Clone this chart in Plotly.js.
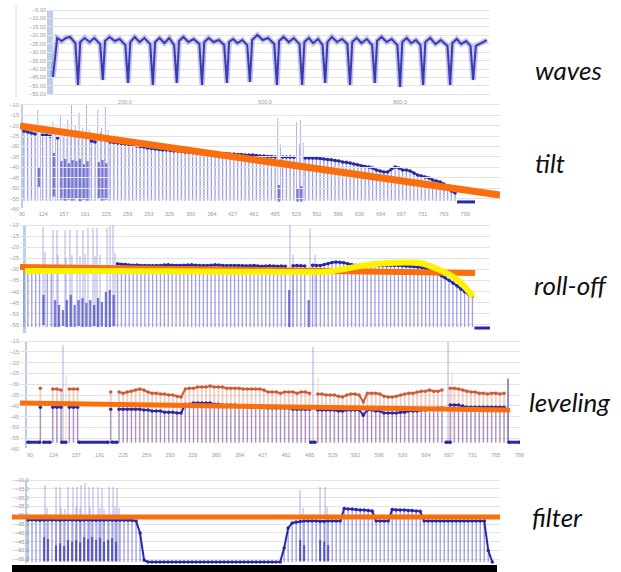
<!DOCTYPE html>
<html><head><meta charset="utf-8">
<script src="https://cdn.plot.ly/plotly-3.0.1.min.js"></script>
<style>html,body{margin:0;padding:0;background:#fff;}#chart{width:621px;height:572px;}</style>
</head><body><div id="chart"></div>
<script>
// ---------------- DATA ----------------
const panelLabels = ['waves', 'tilt', 'roll-off', 'leveling', 'filter'];

// channel plan (MHz, channel centres) shared by the spectrum panels
const channelMHz = [93,99,105,111,117,123,129,135,141,147,153,159,165,171,177,183,189,195,201,207,213,219,225,231,237,243,249,255,261,267,273,279,285,291,297,303,309,315,321,327,333,339,345,351,357,363,369,375,381,387,393,399,405,411,417,423,429,435,441,447,453,459,465,471,477,483,489,495,501,507,513,519,525,531,537,543,549,555,561,567,573,579,585,591,597,603,609,615,621,627,633,639,645,651,657,663,669,675,681,687,693,699,705,711,717,723,729,735,741,747,753,759,765,771,777,783,789];
const freqTickVals = [90,124,157,191,225,259,293,326,360,394,427,461,495,529,562,596,630,664,697,731,765,799];
const freqTickText = ['90','124','157','191','225','259','293','326','360','394','427','461','495','529','562','596','630','664','697','731','765','799'];

// panel 1: waves (time trace)
const wavesTime = [1.35,
 2.3,3.3,4.3,5.2,6.4,7.0,
 7.5,8.5,9.6,10.7,12.0,12.6,
 13.1,14.1,15.3,16.4,17.7,18.3,
 18.8,19.8,20.9,22.0,23.3,23.9,
 24.4,25.4,26.5,27.6,28.7,29.3,
 29.8,30.8,31.9,33.1,34.4,35.0,
 35.5,36.5,37.6,38.8,40.0,40.6,
 41.1,42.0,43.0,44.1,45.2,45.8,
 46.3,47.5,48.7,49.9,51.3,51.9,
 52.4,53.4,54.6,55.7,57.0,57.6,
 58.1,59.1,60.1,61.2,62.2,62.8,
 63.3,64.3,65.5,66.6,67.8,68.4,
 68.9,69.9,71.0,72.2,73.4,74.0,
 74.5,75.5,76.7,77.8,79.1,79.7,
 80.2,81.2,82.2,83.3,84.3,84.9,
 85.4,86.5,87.7,88.9,90.4,91.0,
 91.5,92.5,93.5,94.6,95.6,96.2,
 96.8,98.0,99.3];
const wavesLevel = [-44.7,
 -21.6,-23.4,-21.6,-21.0,-24.6,-49.5,
 -24.0,-21.6,-24.0,-21.6,-25.2,-46.5,
 -23.4,-21.0,-23.4,-22.2,-25.8,-48.3,
 -24.0,-21.0,-24.0,-21.6,-25.2,-49.5,
 -24.0,-21.6,-24.6,-21.6,-25.8,-48.3,
 -23.4,-21.0,-24.0,-22.2,-25.2,-49.5,
 -24.0,-21.6,-24.0,-22.8,-25.8,-48.3,
 -24.0,-22.2,-24.6,-22.8,-25.8,-47.7,
 -22.8,-19.8,-22.8,-21.6,-25.2,-49.5,
 -23.4,-21.0,-24.0,-21.6,-25.2,-49.5,
 -24.0,-21.6,-24.6,-22.2,-25.8,-48.3,
 -24.0,-21.0,-24.0,-22.2,-25.2,-49.5,
 -24.0,-21.6,-24.6,-22.2,-25.8,-48.3,
 -23.4,-21.0,-24.0,-22.2,-25.8,-50.7,
 -24.0,-21.6,-24.6,-22.8,-25.8,-49.5,
 -24.0,-21.6,-25.2,-22.8,-26.3,-49.5,
 -24.6,-22.2,-25.2,-23.4,-26.3,-46.5,
 -26.3,-24.6,-22.8];
const wavesTickVals = [17.6, 49.2, 79.7];
const wavesTickText = ['200.0', '500.0', '800.0'];

// panel 2: tilt
const tiltFloor = -56;
const tiltLevel = [-22.5,-23.0,-23.5,-24.0,null,-24.4,-24.4,-24.9,null,-25.9,
 null,null,null,null,null,null,null,null,-27.3,-27.8,
 null,null,null,-27.8,-28.0,-28.3,-28.5,-28.8,-29.0,-29.2,
 -29.7,-30.0,-30.2,-30.7,-30.9,-31.2,-31.4,-31.6,-31.6,-31.9,
 -32.1,-32.1,-32.4,-32.6,-32.6,-32.6,-32.8,-32.8,-33.1,-33.1,
 -33.1,-33.3,-33.3,-33.6,-33.3,-33.6,-33.6,-33.8,-33.8,-34.0,
 -34.0,-34.0,-34.3,-34.5,-34.5,-34.8,-34.8,-35.0,null,-35.0,
 -35.0,-35.0,-35.2,null,null,-35.5,-35.5,-35.5,-35.5,-35.7,
 -36.0,-36.2,-36.4,-36.7,-36.9,-37.4,-37.6,-37.9,-38.4,-38.8,
 -39.3,-39.6,-39.8,-40.3,-41.3,-41.7,-42.2,-42.2,-40.8,-39.8,
 -40.3,-41.3,-41.3,-41.7,-42.7,-43.7,-44.1,-44.6,-45.1,-46.1,
 -46.5,-47.0,-48.0,-49.9,-51.3,-52.3,null];
const tiltSpikeMHz = [115.3,119.8,139.3,143.8,151.3,155.8,157.3,161.8,163.3,167.8,169.3,173.8,175.3,179.8,181.3,185.8,187.3,191.8,193.3,197.8,211.3,215.8,217.3,221.8,223.3,227.8,499.3,503.8,529.3,533.8,535.3,539.8];
const tiltSpikeLevel = [-12.4,-22.0,-18.2,-23.0,-14.8,-24.0,-21.0,-26.0,-17.0,-25.0,-10.0,-22.0,-20.0,-26.0,-13.8,-23.0,-21.0,-25.0,-10.0,-22.0,-12.4,-23.0,-21.0,-25.0,-11.0,-22.0,-16.3,-29.0,-18.2,-29.0,-17.2,-28.0];
const tiltBodyMHz = [117,141,153,159,165,171,177,183,189,195,213,219,225,501,531,537];
const tiltBodyHigh = [-40.3,-33.0,-37.0,-36.0,-38.0,-36.5,-37.0,-36.0,-38.5,-37.0,-37.5,-36.5,-38.0,-48.5,-50.0,-49.0];
const tiltBodyLow = [-49.4,-54.0,-55.5,-56.0,-55.5,-56.0,-55.0,-56.3,-55.5,-56.0,-55.0,-56.0,-55.5,-56.5,-56.5,-56.5];
const tiltFloorMHz = [786, 815];
const tiltFloorLevel = [-56.6, -56.6];
const tiltGuideMHz = [86.8, 854.8];
const tiltGuideLevel = [-20.1, -53.3];

// panel 3: roll-off
const rolloffFloor = -56;
const rolloffLevel = [-29.0,-29.0,-29.1,-29.0,-29.1,null,-29.2,-29.2,null,null,
 null,null,null,null,null,null,null,null,null,null,
 null,null,null,null,-27.5,-27.7,-27.8,-28.0,-28.1,-28.0,
 -28.2,-28.3,-28.2,-28.4,-28.3,-28.2,-28.0,-27.9,-28.1,-28.2,
 -28.3,-28.1,-28.0,-27.9,-28.1,-28.2,-28.3,-28.2,-28.1,-27.9,
 -28.0,-28.2,-28.4,-28.3,-28.2,-28.3,-28.4,-28.5,-28.4,-28.3,
 -28.5,-28.6,-28.5,-28.4,-28.5,-28.6,-28.5,-28.6,null,-28.4,
 -28.3,-28.4,-28.5,null,-28.1,-28.2,-28.2,-27.8,-27.3,-26.9,
 -26.7,-26.8,-27.0,-27.4,-27.9,-28.1,-28.2,-28.1,-28.2,-28.3,
 -28.1,-28.2,-28.3,-28.2,-28.1,-28.2,-28.3,-28.4,-28.5,-28.6,
 -28.7,-28.9,-29.1,-29.6,-30.2,-31.0,-31.9,-32.8,-33.8,-34.9,
 -36.1,-37.4,-38.8,-40.1,-41.2,-42.0,null];
const rolloffSpikeMHz = [122.3,125.4,137.7,143.8,145.4,156.2,157.7,163.8,166.9,174.6,179.2,183.8,186.9,191.5,199.2,202.3,205.4,210.0,220.8,225.4,230.0,233.1,502.3,506.9,533.1,540.8];
const rolloffSpikeLevel = [-10.9,-22.2,-12.3,-12.3,-23.5,-12.3,-24.9,-12.3,-23.5,-12.3,-24.0,-12.3,-23.1,-11.4,-11.4,-24.0,-11.4,-23.5,-11.4,-10.5,-10.0,-22.6,-10.0,-23.5,-11.4,-23.5];
const rolloffBodyMHz = [123,141,147,153,159,165,171,177,183,189,195,201,207,213,219,225,231,501,531];
const rolloffBodyHigh = [-41.5,-43.8,-46.0,-48.3,-43.8,-41.5,-46.0,-43.8,-42.9,-45.1,-43.8,-46.0,-42.9,-44.7,-40.2,-39.3,-41.5,-39.3,-43.8];
const rolloffBodyLow = [-55.0,-56.0,-56.0,-55.5,-56.0,-55.8,-56.0,-55.5,-56.0,-55.8,-56.0,-55.5,-56.0,-55.8,-56.0,-56.0,-55.5,-56.0,-56.0];
const rolloffFloorMHz = [786, 810];
const rolloffFloorLevel = [-56.4, -56.4];
const rolloffGuideMHz = [86.9, 786.9];
const rolloffGuideLevel = [-28.9, -31.6];
const rolloffCurveMHz = [94.6,210,363.8,517.7,563.8,586.9,610,633.1,656.2,679.2,702.3,717.7,733.1,748.5,760.8,771.5,779.2,783.8];
const rolloffCurveLevel = [-30.7,-30.7,-30.9,-31.2,-30.9,-29.8,-28.5,-27.6,-27.1,-26.9,-27.1,-28.5,-30.3,-32.5,-34.8,-37.9,-40.6,-42.4];

// panel 4: leveling (upper = orange trace, lower = blue trace)
const levelingFloor = -57;
const levelingUpper = [null,null,-31.8,null,null,-32.2,-32.2,-32.7,null,-32.2,
 -32.2,-32.2,null,null,null,null,null,null,null,-33.6,
 null,-33.6,-34.1,-33.6,-33.2,-32.7,-32.2,-32.7,-33.6,-34.1,
 -34.1,-34.5,-34.5,-35.0,-35.0,-35.5,-35.9,-32.2,-31.8,-31.8,
 -31.3,-31.3,-31.3,-30.8,-31.3,-31.3,-31.3,-31.8,-31.8,-31.8,
 -31.8,-32.2,-32.2,-32.2,-32.2,-32.2,-32.7,-33.6,-33.6,-33.6,
 -34.1,-33.6,-33.6,-33.6,-34.1,-33.6,-33.6,-34.1,null,-34.5,
 -34.5,-35.0,-35.0,-35.0,-35.5,-35.9,-35.0,-34.5,-34.5,-35.0,
 -38.2,-34.1,-34.1,-34.1,-34.5,-35.5,-35.9,-35.9,-35.5,-35.0,
 -34.5,-34.1,-34.1,-33.6,-33.2,-33.2,-32.7,-33.2,-33.2,-32.7,
 null,-31.8,-31.8,-32.2,-32.7,-33.2,-33.6,-33.6,-34.1,-34.1,
 -34.5,-34.1,-34.1,-34.5,-34.1,null,null];
const levelingLower = [null,null,-40.6,null,null,-40.6,-40.6,-40.6,null,-40.6,
 -40.6,-40.6,null,null,null,null,null,null,null,-41.5,
 null,-41.5,-41.5,-41.5,-41.5,-41.5,-41.5,-41.9,-41.9,-42.4,
 -42.4,-42.4,-42.9,-42.9,-42.9,-43.3,-43.3,-39.2,-39.2,-38.7,
 -38.7,-38.7,-38.7,-38.7,-39.2,-39.2,-39.6,-39.6,-39.6,-39.6,
 -40.1,-40.1,-40.1,-40.6,-40.6,-40.6,-40.6,-41.0,-41.0,-41.0,
 -41.0,-41.0,-41.0,-41.5,-41.5,-41.5,-41.5,-41.5,null,-41.9,
 -41.9,-41.9,-41.9,-41.9,-42.4,-42.4,-41.9,-41.9,-41.9,-41.9,
 -44.3,-41.9,-41.9,-42.4,-42.4,-43.3,-43.3,-43.3,-43.3,-42.9,
 -42.9,-42.4,-42.4,-42.4,-41.9,-41.9,-41.5,-41.5,-41.0,-41.0,
 null,-39.6,-39.6,-39.6,-40.1,-40.6,-40.6,-40.6,-40.6,-40.6,
 -40.6,-40.6,-40.6,-40.6,-40.6,null,null];
const levelingSpikeMHz = [137.8, 500.1, 695.8];
const levelingSpikeLevel = [-11.9, -12.8, -10.5];
const levelingAudioMHz = [142.2, 507.4, 701.6, 782.8];
const levelingAudioLevel = [-25.7, -26.7, -24.8, -26.7];
const levelingBodyMHz = [782.8];
const levelingBodyHigh = [-27.5];
const levelingBodyLow = [-57.0];
const levelingFloorMHz = [87,104,null,110,119,null,136,142,null,161,203,null,209,216,null,497,503,null,693,699,null,784,800];
const levelingFloorLevel = [-56.8,-56.8,null,-56.8,-56.8,null,-56.8,-56.8,null,-56.8,-56.8,null,-56.8,-56.8,null,-56.8,-56.8,null,-56.8,-56.8,null,-56.8,-56.8];
const levelingGuideMHz = [75.5, 785.7];
const levelingGuideLevel = [-38.7, -41.9];

// panel 5: filter
const filterFloor = -56.6;
const filterLevel = [-32.7,-32.6,-32.7,-32.8,-32.7,-32.6,-32.7,-32.7,-32.8,-32.7,
 -32.6,-32.7,-32.7,-32.8,-32.7,-32.6,-32.7,-32.8,-32.7,-32.7,
 -32.6,-32.7,-32.8,-32.7,-32.7,-32.8,-32.9,-33.3,-40.1,-55.5,
 -56.6,-56.6,-56.6,-56.6,-56.6,-56.6,-56.6,-56.6,-56.6,-56.6,
 -56.6,-56.6,-56.6,-56.6,-56.6,-56.6,-56.6,-56.6,-56.6,-56.6,
 -56.6,-56.6,-56.6,-56.6,-56.6,-56.6,-56.6,-56.6,-56.6,-56.6,
 -56.6,-56.6,-56.6,-56.6,-48.6,-37.3,-34.4,-33.9,-33.6,-33.3,
 -33.3,-33.3,-33.3,-33.6,-33.6,-33.3,-33.3,-33.3,-33.3,-26.2,
 -26.5,-26.5,-26.8,-27.0,-27.0,-27.3,-27.6,-33.3,-33.3,-33.3,
 -33.3,-26.7,-27.0,-27.0,-27.0,-27.3,-27.3,-27.6,-27.8,-33.3,
 -33.3,-33.3,-33.3,-33.3,-33.3,-33.3,-33.3,-33.3,-33.3,-33.3,
 -33.3,-33.3,-33.3,-33.3,-33.3,-50.0,-56.6];
const filterSpikeMHz = [118.5,121.5,135,141,142.5,148.5,153,160.5,165,166.5,171,172.5,178.5,184.5,186,190.5,198,201,204,207,214.5,220.5,223.5,226.5,229.5,500.8,505.3,530.8,538.3,541.3];
const filterSpikeLevel = [-12.8,-25.9,-14.0,-14.0,-25.9,-26.5,-14.0,-14.0,-25.3,-14.0,-26.0,-12.8,-11.7,-14.0,-25.9,-14.0,-14.0,-25.9,-14.5,-26.5,-14.0,-14.0,-25.3,-14.5,-25.9,-15.7,-25.9,-14.0,-14.0,-25.3];
const filterBodyMHz = [117,123,135,141,147,153,159,165,171,177,183,189,195,201,207,213,219,225,501,507,531,537,543];
const filterBodyHigh = [-42.4,-43.5,-47.0,-46.0,-47.5,-44.1,-45.0,-44.1,-45.5,-42.4,-43.5,-42.4,-44.0,-42.8,-45.0,-44.1,-43.0,-45.0,-44.1,-47.0,-44.1,-45.0,-47.0];
const filterBodyLow = [-56.0,-56.0,-56.0,-56.0,-56.0,-56.0,-56.0,-56.0,-56.0,-56.0,-56.0,-56.0,-56.0,-56.0,-56.0,-56.0,-56.0,-56.0,-56.0,-56.0,-56.0,-56.0,-56.0];
const filterGuideMHz = [69, 800.6];
const filterGuideLevel = [-31.0, -31.0];

// ---------------- DRAWING ----------------
const W = 621, H = 572;
const dom = (a, b) => [a / W, b / W];
const vdom = (t, b) => [1 - b / H, 1 - t / H];
const PX = x => x / W, PY = y => 1 - y / H;

const DARK = 'rgb(40,40,168)';
const LAV = 'rgba(105,105,210,0.62)';
const BODY = 'rgba(35,35,178,0.6)';
const ORANGE = 'rgb(250,110,12)';
const YELLOW = 'rgb(255,242,0)';
const BROWN = 'rgb(204,92,52)';
const SALMON = 'rgba(225,155,135,0.5)';

const traces = [];
function bars(x, top, low, width, color, xa, ya) {
  const lo = i => Array.isArray(low) ? low[i] : low;
  traces.push({type: 'bar', x: x, y: top.map((t, i) => t - lo(i)), base: x.map((_, i) => lo(i)),
    width: width, marker: {color: color, line: {width: 0}}, xaxis: xa, yaxis: ya, hoverinfo: 'skip'});
}
function channelBars(levels, floor, width, color, xa, ya) {
  const xs = [], tops = [];
  channelMHz.forEach((f, i) => { if (levels[i] !== null && levels[i] > floor) { xs.push(f); tops.push(levels[i]); } });
  bars(xs, tops, floor, width, color, xa, ya);
}
function line(x, y, color, width, xa, ya, extra) {
  traces.push(Object.assign({type: 'scatter', mode: 'lines', x: x, y: y, xaxis: xa, yaxis: ya,
    line: {color: color, width: width}, hoverinfo: 'skip', connectgaps: false}, extra || {}));
}
function tops(levels, color, xa, ya) {
  line(channelMHz, levels, color, 2, xa, ya, {mode: 'lines+markers', marker: {color: color, size: 3.5}});
}

// waves
line(wavesTime, wavesLevel, 'rgba(95,95,205,0.35)', 5.5, 'x', 'y');
line(wavesTime, wavesLevel, 'rgb(58,58,178)', 2, 'x', 'y');

// tilt
channelBars(tiltLevel, tiltFloor, 2.2, LAV, 'x2', 'y2');
bars(tiltSpikeMHz, tiltSpikeLevel, tiltFloor, 1.3, LAV, 'x2', 'y2');
bars(tiltBodyMHz, tiltBodyHigh, tiltBodyLow, 3.4, BODY, 'x2', 'y2');
tops(tiltLevel, DARK, 'x2', 'y2');
line(tiltFloorMHz, tiltFloorLevel, DARK, 3, 'x2', 'y2');
line(tiltGuideMHz, tiltGuideLevel, ORANGE, 7, 'x6', 'y2');

// roll-off
channelBars(rolloffLevel, rolloffFloor, 2.1, LAV, 'x3', 'y3');
bars(rolloffSpikeMHz, rolloffSpikeLevel, rolloffFloor, 1.3, LAV, 'x3', 'y3');
bars(rolloffBodyMHz, rolloffBodyHigh, rolloffBodyLow, 3.4, BODY, 'x3', 'y3');
tops(rolloffLevel, DARK, 'x3', 'y3');
line(rolloffFloorMHz, rolloffFloorLevel, DARK, 3, 'x3', 'y3');
line(rolloffGuideMHz, rolloffGuideLevel, ORANGE, 6, 'x3', 'y3');
line(rolloffCurveMHz, rolloffCurveLevel, YELLOW, 6, 'x3', 'y3', {line: {color: YELLOW, width: 6, shape: 'spline', smoothing: 1}});

// leveling
channelBars(levelingUpper, levelingFloor, 2.6, SALMON, 'x4', 'y4');
channelBars(levelingLower, levelingFloor, 1.6, LAV, 'x4', 'y4');
bars(levelingSpikeMHz, levelingSpikeLevel, levelingFloor, 1.3, LAV, 'x4', 'y4');
bars(levelingAudioMHz, levelingAudioLevel, levelingFloor, 1.3, SALMON, 'x4', 'y4');
bars(levelingBodyMHz, levelingBodyHigh, levelingBodyLow, 2.2, BODY, 'x4', 'y4');
line(levelingFloorMHz, levelingFloorLevel, DARK, 3, 'x4', 'y4', {mode: 'lines+markers', marker: {color: DARK, size: 3.5}});
tops(levelingLower, DARK, 'x4', 'y4');
tops(levelingUpper, BROWN, 'x4', 'y4');
line(levelingGuideMHz, levelingGuideLevel, ORANGE, 5, 'x4', 'y4');

// filter
channelBars(filterLevel, filterFloor, 2.1, LAV, 'x5', 'y5');
bars(filterSpikeMHz, filterSpikeLevel, filterFloor, 1.3, LAV, 'x5', 'y5');
bars(filterBodyMHz, filterBodyHigh, filterBodyLow, 3.2, BODY, 'x5', 'y5');
tops(filterLevel, DARK, 'x5', 'y5');
line(filterGuideMHz, filterGuideLevel, ORANGE, 5, 'x5', 'y5');

const tickFont = {family: 'Liberation Sans, Arial, sans-serif', size: 5.5, color: '#9c9c9c'};
function yAx(t, b, range, fmt, anchor, extra) {
  return Object.assign({domain: vdom(t, b), range: range, autorange: false, dtick: 5, tick0: 0,
    showgrid: true, gridcolor: '#e3e3e3', gridwidth: 1, zeroline: false, showline: false, ticks: '',
    tickformat: fmt, tickfont: tickFont, anchor: anchor, fixedrange: true}, extra || {});
}
function xAx(a, b, range, anchor, extra) {
  return Object.assign({domain: dom(a, b), range: range, autorange: false, showgrid: false, zeroline: false,
    showline: false, ticks: '', showticklabels: false, tickfont: tickFont, anchor: anchor, fixedrange: true}, extra || {});
}

const band = (x0, x1, y0, y1) => ({type: 'rect', xref: 'paper', yref: 'paper', x0: PX(x0), x1: PX(x1), y0: PY(y1), y1: PY(y0),
  fillcolor: 'rgba(175,200,228,0.85)', line: {width: 0}, layer: 'below'});

const labelFont = {family: 'Lato, "Open Sans", sans-serif', size: 26, color: '#111', style: 'italic'};
const labelPos = [[533, 70], [533, 163], [532, 285], [527, 402], [530, 517]];

const layout = {
  width: W, height: H, margin: {l: 0, r: 0, t: 0, b: 0},
  paper_bgcolor: '#fff', plot_bgcolor: 'rgba(0,0,0,0)', showlegend: false, barmode: 'overlay',
  xaxis: xAx(47, 490, [0, 100], 'y', {showticklabels: true, tickvals: wavesTickVals, ticktext: wavesTickText}),
  yaxis: yAx(8, 97, [-56.6, -3.8], '.2f', 'x'),
  xaxis2: xAx(20, 475, [86.8, 814.8], 'y2', {showticklabels: true, tickvals: freqTickVals, ticktext: freqTickText}),
  yaxis2: yAx(102, 209, [-60, -8.6], 'd', 'x2'),
  xaxis3: xAx(20, 490, [86.9, 810], 'y3'),
  yaxis3: yAx(222, 335, [-59.55, -8.65], 'd', 'x3'),
  xaxis4: xAx(20, 520, [75.5, 800.1], 'y4', {showticklabels: true, tickvals: freqTickVals, ticktext: freqTickText}),
  yaxis4: yAx(338, 450, [-60.4, -8.6], 'd', 'x4'),
  xaxis5: xAx(12, 500, [69, 800.6], 'y5'),
  yaxis5: yAx(476, 565, [-58.3, -7.7], '.1f', 'x5', {ticklabelposition: 'inside'}),
  xaxis6: {domain: dom(20, 500), range: [86.8, 854.8], autorange: false, visible: false, anchor: 'y2', fixedrange: true},
  shapes: [
    band(47, 53, 10, 95), band(21, 23, 105, 208), band(23, 26, 225, 333), band(25, 27, 341, 448), band(25, 27, 480, 563),
    {type: 'line', xref: 'paper', yref: 'paper', x0: PX(16), x1: PX(16), y0: PY(97), y1: PY(5), line: {color: '#dcdcdc', width: 1}},
    {type: 'rect', xref: 'paper', yref: 'paper', x0: PX(12), x1: PX(497), y0: PY(572), y1: PY(565), fillcolor: '#000', line: {width: 0}}
  ],
  annotations: panelLabels.map((t, i) => ({text: t, xref: 'paper', yref: 'paper', x: PX(labelPos[i][0]), y: PY(labelPos[i][1]),
    xanchor: 'left', yanchor: 'middle', showarrow: false, font: labelFont}))
};

Plotly.newPlot('chart', traces, layout, {staticPlot: true, displayModeBar: false});
</script></body></html>
